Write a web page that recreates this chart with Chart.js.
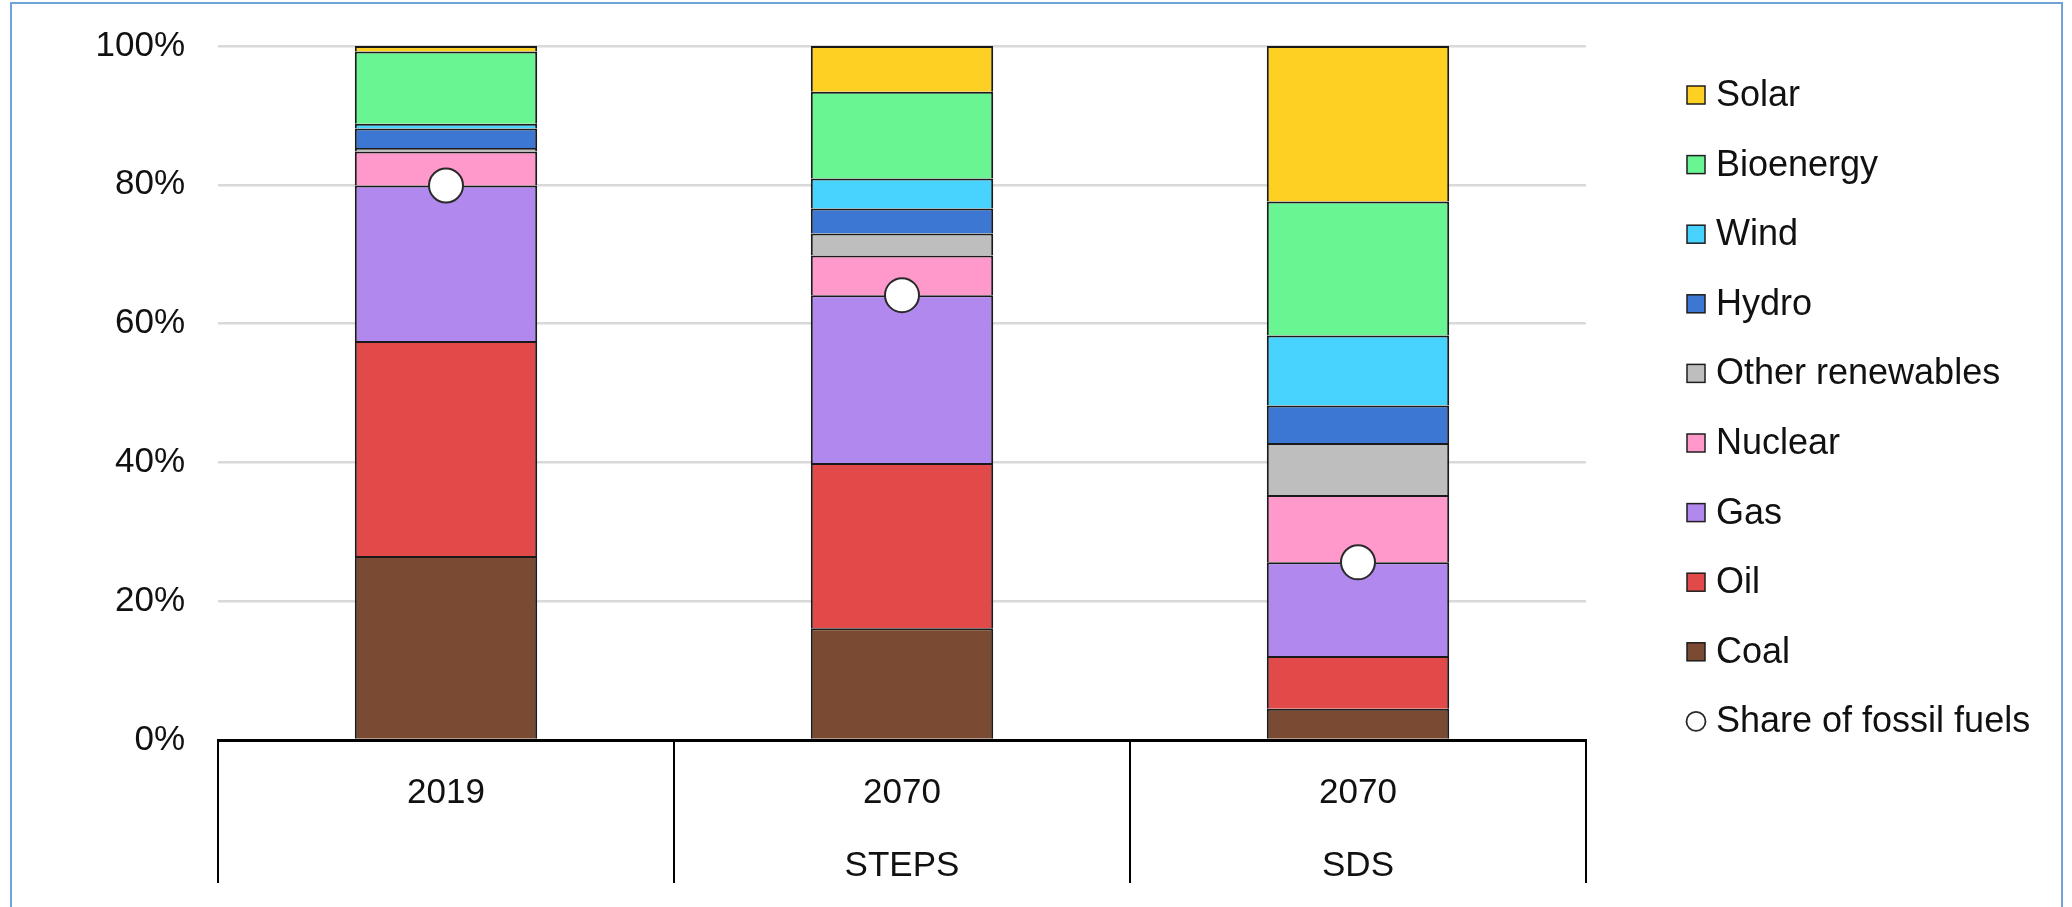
<!DOCTYPE html>
<html>
<head>
<meta charset="utf-8">
<script src="https://cdn.jsdelivr.net/npm/chart.js@4/dist/chart.umd.min.js"></script>
<style>
  html, body { margin: 0; padding: 0; background: #fff; }
  #wrap { position: relative; width: 2072px; height: 907px; overflow: hidden; }
  #frame { position: absolute; left: 10px; top: 2px; width: 2053px; height: 940px;
           border: 2px solid #6FA3D8; box-sizing: border-box; pointer-events: none; }
  canvas { position: absolute; left: 0; top: 0; }
</style>
</head>
<body>
<div id="wrap">
  <canvas id="c" width="2072" height="907"></canvas>
  <div id="frame"></div>
</div>
<script>
// Categories (two-line labels: year / scenario)
const categories = [['2019', ''], ['2070', 'STEPS'], ['2070', 'SDS']];

// Share of total energy supply by source, in percent
const coal      = [26.5, 16.1, 4.5];
const oil       = [31.0, 23.8, 7.6];
const gas       = [22.4, 24.2, 13.5];
const nuclear   = [4.9, 5.7, 9.7];
const otherRen  = [0.5, 3.2, 7.5];
const hydro     = [2.8, 3.6, 5.4];
const wind      = [0.7, 4.3, 10.1];
const bioenergy = [10.4, 12.5, 19.3];
const solar     = [0.8, 6.6, 22.4];

// Share of fossil fuels (coal + oil + gas)
const fossilShare = [79.9, 64.1, 25.6];

// Y-axis tick values
const yTicks = [0, 20, 40, 60, 80, 100];

const FONT = '"Liberation Sans", Arial, sans-serif';
const TEXT = '#111111';

function bar(label, data, color) {
  return {
    type: 'bar', label, data,
    backgroundColor: color,
    borderColor: '#1a1a1a',
    borderWidth: 2,
    categoryPercentage: 1.0,
    barPercentage: 0.4
  };
}

const datasets = [
  bar('Coal', coal, '#7B4A32'),
  bar('Oil', oil, '#E24A4A'),
  bar('Gas', gas, '#B088EE'),
  bar('Nuclear', nuclear, '#FF99CC'),
  bar('Other renewables', otherRen, '#BEBEBE'),
  bar('Hydro', hydro, '#3C78D3'),
  bar('Wind', wind, '#48D3FF'),
  bar('Bioenergy', bioenergy, '#6AF593'),
  bar('Solar', solar, '#FDD023'),
  {
    type: 'line', label: 'Share of fossil fuels', data: fossilShare,
    stack: 'fossil', showLine: false, order: -1,
    pointRadius: 17, pointHoverRadius: 17,
    pointBackgroundColor: '#ffffff', pointBorderColor: '#2a2a2a', pointBorderWidth: 2,
    backgroundColor: '#ffffff', borderColor: '#2a2a2a'
  }
];

// Legend on the right: stacked sources top-down, then the fossil-share marker
const legendPlugin = {
  id: 'sideLegend',
  afterDraw(chart) {
    const ctx = chart.ctx;
    const ds = chart.data.datasets;
    const items = ds.filter(d => d.type === 'bar').slice().reverse()
      .concat(ds.filter(d => d.type === 'line'));
    const x0 = 1687, y0 = 95, step = 69.6, box = 18;
    ctx.save();
    ctx.font = '36px ' + FONT;
    ctx.textBaseline = 'middle';
    ctx.textAlign = 'left';
    items.forEach((d, i) => {
      const y = y0 + i * step;
      if (d.type === 'bar') {
        ctx.fillStyle = d.backgroundColor;
        ctx.fillRect(x0, y - box / 2, box, box);
        ctx.lineWidth = 1.5;
        ctx.strokeStyle = '#1e1e1e';
        ctx.strokeRect(x0, y - box / 2, box, box);
      } else {
        ctx.beginPath();
        ctx.arc(x0 + 9, y, 9.5, 0, Math.PI * 2);
        ctx.fillStyle = '#ffffff';
        ctx.fill();
        ctx.lineWidth = 1.8;
        ctx.strokeStyle = '#2a2a2a';
        ctx.stroke();
      }
      ctx.fillStyle = TEXT;
      ctx.fillText(d.label, x0 + 29, y + 1);
    });
    ctx.restore();
  }
};

new Chart(document.getElementById('c'), {
  data: { labels: categories, datasets },
  options: {
    responsive: false,
    animation: false,
    layout: { padding: { left: 0, right: 486, top: 46, bottom: 0 } },
    plugins: { legend: { display: false }, tooltip: { enabled: false } },
    scales: {
      x: {
        stacked: true,
        offset: true,
        grid: {
          offset: true,
          drawOnChartArea: false,
          drawTicks: true,
          tickLength: 143,
          color: '#000000',
          lineWidth: 2
        },
        border: { display: true, color: '#000000', width: 3 },
        ticks: {
          font: { family: FONT, size: 35, lineHeight: 2.09 },
          color: TEXT,
          padding: -126,
          maxRotation: 0,
          autoSkip: false
        },
        afterFit(scale) { scale.height = 167; }
      },
      y: {
        stacked: true,
        min: 0,
        max: 100,
        afterBuildTicks(scale) { scale.ticks = yTicks.map(v => ({ value: v })); },
        grid: { color: '#d9d9d9', lineWidth: 2.5, drawTicks: false },
        border: { display: false },
        ticks: {
          font: { family: FONT, size: 35 },
          color: TEXT,
          padding: 33,
          callback: v => v + '%'
        },
        afterFit(scale) { scale.width = 218; scale.paddingTop = 0; }
      }
    }
  },
  plugins: [legendPlugin]
});
</script>
</body>
</html>
